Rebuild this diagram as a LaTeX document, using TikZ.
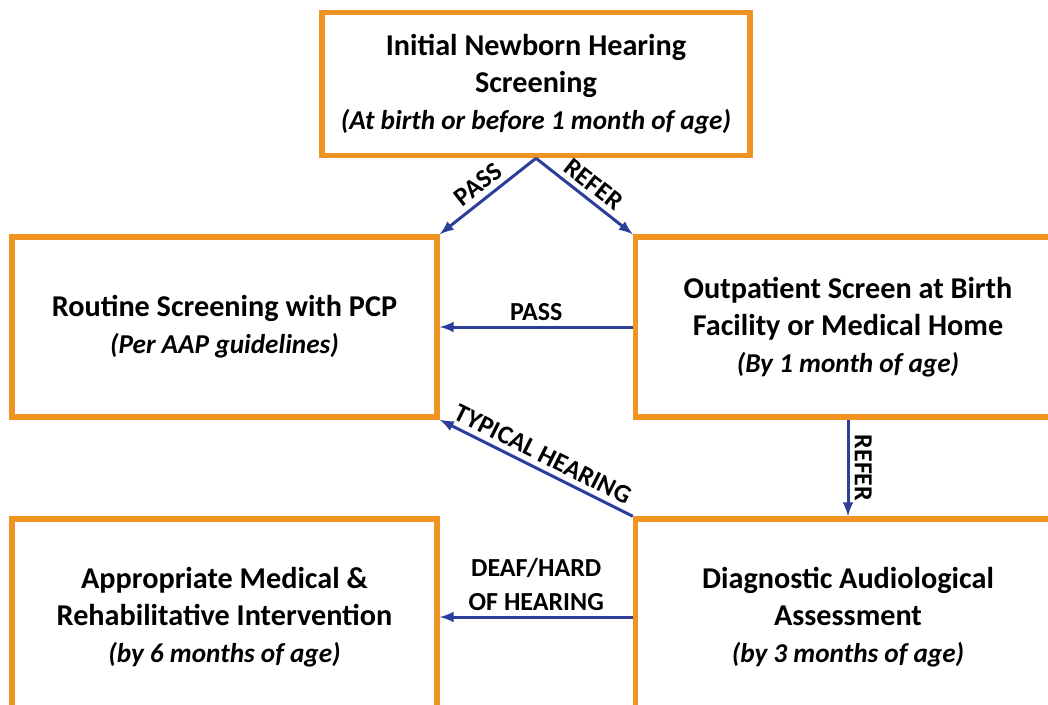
\documentclass[tikz,border=0pt]{standalone}
\usepackage{fontspec}
\setmainfont{Carlito}
\usepackage{xcolor}
\usepackage{tikz}
\usetikzlibrary{arrows}

\definecolor{boxorange}{RGB}{240,148,33}
\definecolor{flowblue}{RGB}{44,62,153}

\newcommand{\agenote}[1]{{\fontsize{15.5pt}{21pt}\selectfont\itshape #1}}

\tikzset{
    box/.style={draw=boxorange, line width=0.11cm, align=center, inner xsep=0.5pt,
        font=\fontsize{17.2pt}{21pt}\selectfont\bfseries},
    midbox/.style={box, minimum width=8.5cm, minimum height=3.6cm},
    lowbox/.style={box, minimum width=8.5cm, minimum height=3.92cm},
    flow/.style={draw=flowblue, line width=0.06cm, -latex},
    lbl/.style={font=\fontsize{14.8pt}{19pt}\selectfont\bfseries, align=center, inner sep=3pt}
}

\begin{document}
\begin{tikzpicture}[x=0.02cm, y=-0.02cm]
        \useasboundingbox (0,0) rectangle (1048,704);
        \clip (0,0) rectangle (1048,704);

        \node[box, minimum width=8.56cm, minimum height=2.86cm] (init) at (536,84)
            {Initial Newborn Hearing\\Screening\\\agenote{(At birth or before 1 month of age)}};
        \node[midbox] (routine) at (224.5,327)
            {Routine Screening with PCP\\\agenote{(Per AAP guidelines)}};
        \node[midbox] (outpt) at (848,327)
            {Outpatient Screen at Birth\\Facility or Medical Home\\\agenote{(By 1 month of age)}};
        \node[lowbox] (interv) at (224.5,617)
            {Appropriate Medical \&\\Rehabilitative Intervention\\\agenote{(by 6 months of age)}};
        \node[lowbox] (diag) at (848,617)
            {Diagnostic Audiological\\Assessment\\\agenote{(by 3 months of age)}};

        \draw[flow] (init.south) -- node[lbl, sloped, above] {PASS} (routine.north east);
        \draw[flow] (init.south) -- node[lbl, sloped, above] {REFER} (outpt.north west);
        \draw[flow] (outpt.west) -- node[lbl, above] {PASS} (routine.east);
        \draw[flow] (outpt.south) -- node[lbl, rotate=-90, anchor=south] {REFER} (diag.north);
        \draw[flow] (diag.north west) -- node[lbl, sloped, above] {TYPICAL HEARING} (routine.south east);
        \draw[flow] (diag.west) -- node[lbl, above] {DEAF/HARD\\OF HEARING} (interv.east);
    \end{tikzpicture}
\end{document}
